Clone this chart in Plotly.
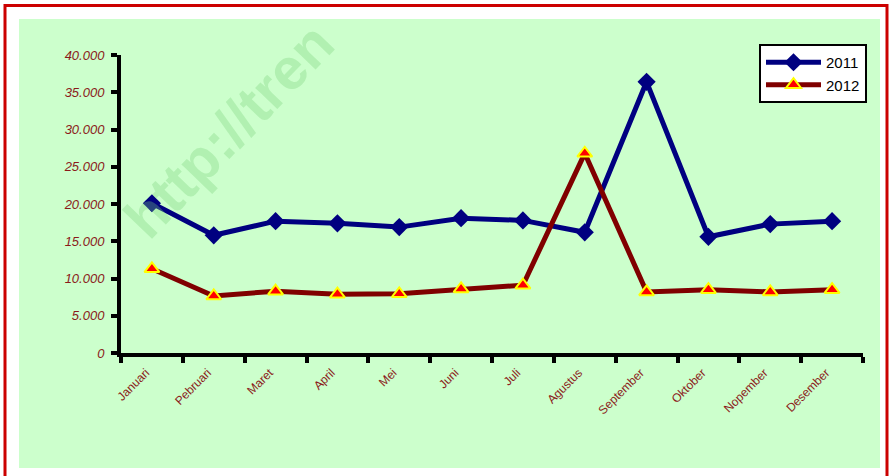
import plotly.graph_objects as go

# data
bulan = ["Januari", "Pebruari", "Maret", "April", "Mei", "Juni", "Juli",
         "Agustus", "September", "Oktober", "Nopember", "Desember"]
tahun_2011 = [20100, 15800, 17700, 17400, 16900, 18100, 17800, 16200, 36400, 15600, 17300, 17700]
tahun_2012 = [11300, 7650, 8300, 7900, 7950, 8600, 9100, 26800, 8200, 8500, 8200, 8500]
y_ticks = [0, 5000, 10000, 15000, 20000, 25000, 30000, 35000, 40000]

W, H = 894, 476
L, R, T, B = 121, 31, 55, 123
pw, ph = W - L - R, H - T - B


def px_x(x):
    return (x - L) / pw


def px_y(y):
    return (H - B - y) / ph


fig = go.Figure()

fig.add_trace(go.Scatter(
    x=bulan, y=tahun_2011, name="2011", mode="lines+markers",
    line=dict(color="#000080", width=5),
    marker=dict(symbol="diamond", size=14, color="#000080"),
))
fig.add_trace(go.Scatter(
    x=bulan, y=tahun_2012, name="2012", mode="lines+markers",
    line=dict(color="#800000", width=5),
    marker=dict(symbol="triangle-up", size=13, color="#ff0000",
                line=dict(color="#ffff00", width=2)),
))

# background panel + red frame
fig.add_shape(type="rect", xref="paper", yref="paper", layer="below",
              x0=px_x(19), x1=px_x(880), y0=px_y(468), y1=px_y(19),
              fillcolor="#ccffcc", line=dict(width=0))
fig.add_shape(type="rect", xref="paper", yref="paper", layer="above",
              x0=px_x(5), x1=px_x(887), y0=px_y(490), y1=px_y(5.5),
              fillcolor="rgba(0,0,0,0)", line=dict(color="#cc0000", width=3))

# watermark
fig.add_annotation(text="<b>http://tren</b>", xref="paper", yref="paper",
                   x=px_x(228), y=px_y(130), xanchor="center", yanchor="middle",
                   showarrow=False, textangle=-46,
                   font=dict(family="Arial", size=58, color="rgba(120,210,120,0.33)"))

fig.update_layout(
    width=W, height=H,
    margin=dict(l=L, r=R, t=T, b=B),
    paper_bgcolor="white",
    plot_bgcolor="rgba(0,0,0,0)",
    separators=",.",
    font=dict(family="Arial"),
    showlegend=True,
    legend=dict(x=px_x(759), y=px_y(44), xanchor="left", yanchor="top",
                bgcolor="white", bordercolor="black", borderwidth=2,
                font=dict(size=15, color="black"), tracegroupgap=0,
                itemwidth=55),
)

fig.update_xaxes(
    type="category", range=[-0.5, 11.5],
    showline=True, linecolor="black", linewidth=4,
    ticks="outside", tickson="boundaries", ticklen=6, tickwidth=4, tickcolor="black",
    tickangle=-45, ticklabelshift=-6, ticklabelstandoff=4,
    tickfont=dict(family="Arial", size=12, color="#8b1a1a"),
    showgrid=False, zeroline=False,
)
fig.update_yaxes(
    range=[0, 40000], tickvals=y_ticks, tickformat=",d",
    showline=True, linecolor="black", linewidth=4,
    ticks="outside", ticklen=6, tickwidth=4, tickcolor="black",
    ticklabelstandoff=4,
    tickfont=dict(family="Arial", size=13, color="#8b1a1a", style="italic"),
    showgrid=False, zeroline=False,
)

fig.write_html("out.html", config={"displayModeBar": False},
               post_script="document.body.style.margin='0';")
